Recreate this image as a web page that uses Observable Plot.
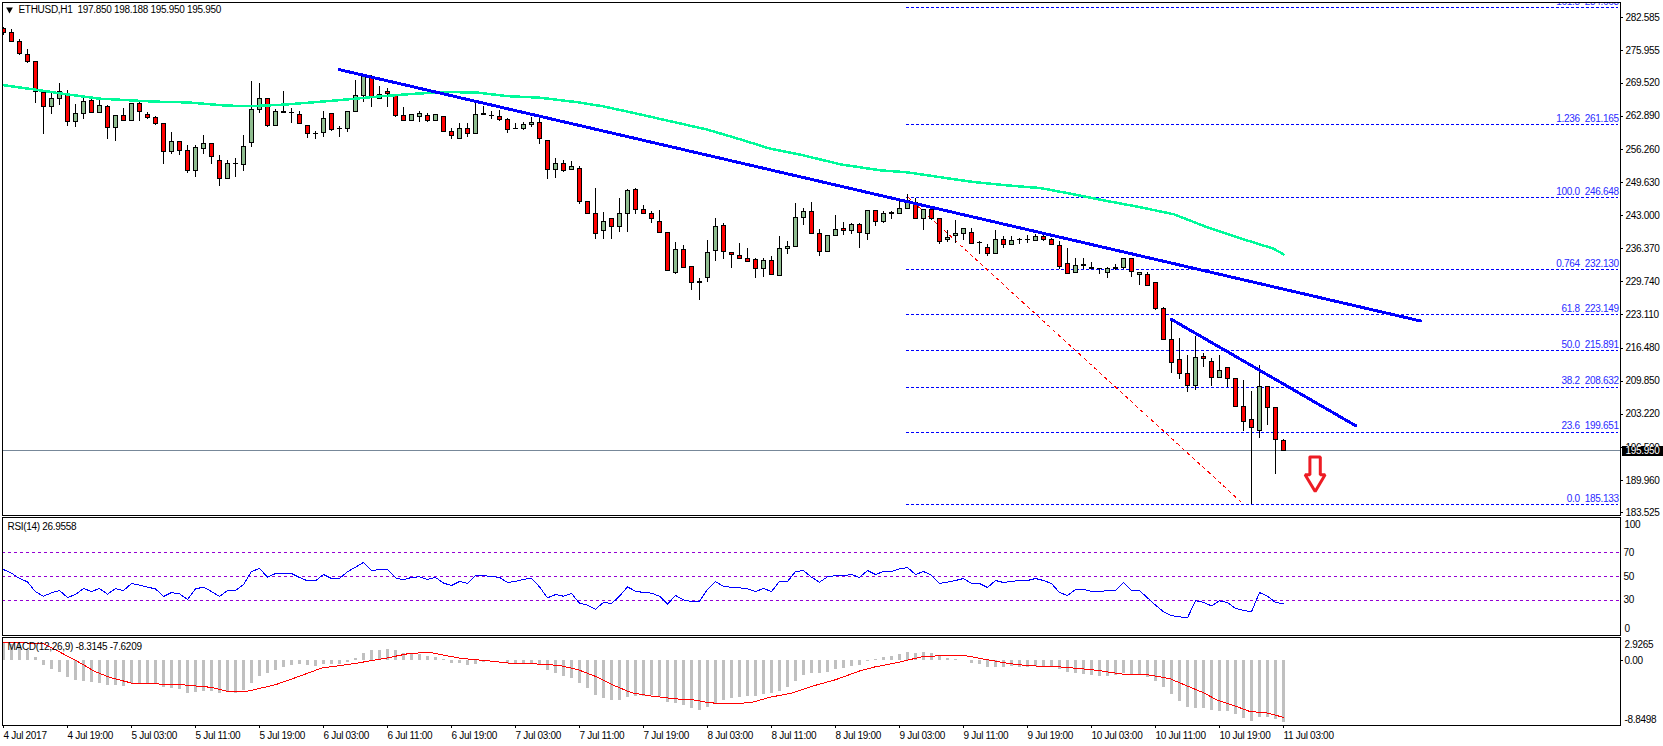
<!DOCTYPE html>
<html><head><meta charset="utf-8">
<script src="https://cdn.jsdelivr.net/npm/d3@7"></script>
<script src="https://cdn.jsdelivr.net/npm/@observablehq/plot@0.6"></script>
<style>html,body{margin:0;padding:0;background:#fff;overflow:hidden}svg{display:block}</style>
</head><body><div id="chart"></div>
<script>
const openV=[280.3,279.6,277.8,275.2,273.8,267.6,264.8,266.4,267.2,261.8,
263.4,266.0,263.6,264.8,260.6,263.0,262.0,265.4,263.2,262.6,
261.4,255.8,257.8,256.0,251.9,256.3,257.4,254.0,250.3,253.4,
253.1,257.5,264.2,266.4,260.9,263.7,263.6,263.1,261.0,259.4,
259.6,263.4,260.4,260.4,263.8,267.0,270.6,266.4,267.8,267.1,
263.0,262.0,262.7,263.0,261.9,262.8,259.8,258.3,260.4,259.3,
263.25,263.0,262.8,262.2,260.4,260.25,261.1,261.6,258.0,252.1,
253.4,252.1,252.4,245.8,243.4,239.9,242.4,240.7,243.4,248.2,
244.2,243.4,241.8,239.6,231.5,236.2,232.6,229.65,230.5,235.9,
241.0,235.6,235.0,234.4,234.0,232.2,233.8,230.9,236.3,236.8,
242.5,243.8,239.4,235.7,239.0,240.4,239.9,241.2,239.4,244.0,
241.7,243.5,243.4,244.4,245.6,242.3,244.2,242.4,238.1,239.0,
239.4,239.6,237.6,236.6,235.3,238.2,237.2,238.2,238.2,238.0,
238.8,238.2,237.0,233.2,231.4,233.05,232.4,232.3,231.4,232.4,
232.5,234.4,231.0,231.0,229.4,224.2,218.0,214.0,211.2,208.9,
214.6,213.6,210.4,212.4,210.2,204.6,202.0,199.8,208.6,204.4,
197.85];
const highV=[280.6,280.2,278.2,276.2,273.8,267.6,267.4,269.4,268.05,265.25,
266.7,266.2,266.7,265.0,263.0,264.45,265.4,265.8,263.6,262.85,
261.4,259.65,257.8,257.0,257.1,259.05,257.4,255.05,254.0,254.45,
259.05,269.8,269.4,266.4,264.2,267.8,264.45,263.9,261.0,259.9,
263.8,263.4,260.85,263.8,270.0,271.05,271.05,268.85,268.4,267.1,
264.65,263.3,263.85,263.4,263.2,262.8,260.45,261.45,261.45,265.65,
264.85,263.8,264.05,262.45,261.45,261.6,262.6,262.6,258.0,254.4,
254.05,253.85,252.8,245.8,248.4,243.6,242.4,246.4,248.2,248.4,
245.0,243.8,244.0,239.6,237.6,237.0,232.6,230.4,238.0,242.4,
241.4,235.6,237.4,236.4,234.4,234.4,234.8,238.8,237.8,245.4,
244.4,245.6,240.2,239.0,243.0,241.6,241.4,241.4,244.0,244.0,
243.8,243.8,245.8,247.25,246.5,244.2,244.6,242.4,240.0,242.0,
240.4,240.4,237.9,237.3,240.0,238.8,238.8,238.4,239.0,239.2,
239.2,238.4,237.8,236.4,234.4,234.4,233.6,232.3,232.6,233.2,
234.4,234.5,231.4,231.5,229.4,224.6,222.1,218.4,215.05,218.85,
215.4,214.4,215.05,212.4,210.4,210.05,207.8,213.0,208.7,204.4,
198.188];
const lowV=[279.1,277.7,275.1,273.5,265.5,259.2,263.2,265.0,260.85,260.7,
262.3,263.5,263.5,258.3,257.9,261.8,261.8,261.9,262.2,261.05,
253.3,255.2,255.0,251.4,250.7,255.2,253.3,248.9,250.3,250.7,
251.9,256.7,263.5,260.7,260.9,263.5,261.5,261.25,258.5,258.3,
258.7,259.9,258.7,259.7,263.8,265.7,264.7,266.4,264.7,262.7,
262.0,262.0,261.7,261.7,261.9,259.7,258.3,258.3,258.7,259.3,
263.1,262.2,261.9,259.5,260.2,260.1,260.7,257.3,250.3,250.5,
251.7,252.1,245.3,243.3,238.3,238.3,238.3,239.7,239.7,243.3,
243.3,241.5,239.5,231.9,231.1,232.5,228.05,226.05,229.5,233.7,
234.3,232.3,234.3,233.7,230.3,230.5,231.0,230.9,235.3,236.8,
241.1,239.3,234.9,235.7,239.0,239.1,239.3,236.5,238.1,240.9,
241.5,242.3,243.4,244.4,242.3,240.05,242.0,237.3,237.7,237.5,
238.05,237.3,235.3,234.9,235.3,236.5,237.1,237.2,237.4,237.9,
237.9,237.1,232.2,231.1,231.3,232.2,232.2,231.1,230.3,232.0,
232.2,230.5,228.9,228.8,223.9,218.0,211.4,210.2,207.5,207.9,
212.5,208.7,210.4,208.5,204.6,199.8,185.133,198.4,200.9,191.2,
195.95];
const closeV=[279.5,277.7,275.3,273.7,267.8,264.8,266.4,267.7,261.8,263.4,
265.8,263.6,265.0,260.5,263.0,262.0,265.4,263.8,262.5,261.4,
255.7,257.8,256.0,251.9,256.6,257.4,254.7,250.3,253.4,253.25,
256.8,264.2,266.4,260.9,263.8,263.6,263.45,261.3,259.3,259.25,
262.4,260.1,260.25,263.8,267.0,270.85,266.6,267.05,267.25,262.9,
262.0,263.2,263.4,261.9,263.2,259.7,258.9,260.4,259.3,263.2,
263.1,262.85,262.1,260.1,260.25,261.2,261.6,258.3,252.1,253.4,
251.9,252.8,245.7,243.3,239.3,241.8,240.7,243.4,248.0,244.1,
243.3,242.3,239.5,231.9,236.2,232.5,229.5,229.5,235.6,240.8,
235.7,235.1,234.3,233.7,232.3,233.8,231.1,236.4,236.8,242.6,
243.8,239.3,235.7,239.0,240.2,239.9,241.2,239.5,244.0,241.7,
243.4,243.4,244.4,245.9,242.3,244.2,242.4,237.7,238.6,239.4,
240.4,237.3,237.45,235.3,238.2,237.2,238.0,238.05,238.05,238.8,
238.2,237.2,232.7,231.3,232.9,232.9,232.25,232.2,232.3,232.25,
234.2,231.6,231.4,228.8,224.2,218.0,213.4,211.2,208.9,214.4,
214.2,210.4,211.8,210.2,204.6,201.7,200.4,208.6,204.4,198.0,
195.95];

const maIdx=[0,4,8,12,16,19,23,26,28,31,35,39,43,47,52,56,59,63,67,71.7,75,79,83.3,88,92.5,95.8,100,104.6,109.6,113,117,121.3,125.4,129.6,133.8,138,142,146.3,150.4,154.6,158.7,160];
const maVal=[269.1,268.2,267.25,266.4,266.05,265.8,265.65,265.25,265.0,264.9,265.2,265.7,266.25,266.85,267.45,267.7,267.65,266.9,266.6,265.7,264.85,263.45,261.9,260.2,258.05,256.4,255.05,253.25,252.05,251.65,250.7,249.7,249.05,248.5,247.25,245.9,244.7,243.25,240.7,238.45,236.4,235.25];

const trend1Idx=[42,177.1], trend1Val=[272.2,221.9];
const trend2Idx=[146,169.05], trend2Val=[222.2,200.9];
const fibDiagIdx=[113.1,154.6], fibDiagVal=[246.6,185.8];
const fibStartIdx=112.9, fibEndIdx=201.9;
const fibLevels=[284.663,261.165,246.648,232.130,223.149,215.891,208.632,199.651,185.133];
const fibLabels=["161.8  284.663","1.236  261.165","100.0  246.648","0.764  232.130","61.8  223.149","50.0  215.891","38.2  208.632","23.6  199.651","0.0  185.133"];
const lastClose=195.95;
const priceTicks=[282.585,275.955,269.52,262.89,256.26,249.63,243,236.37,229.74,223.11,216.48,209.85,203.22,196.59,189.96,183.525];
const arrowIdx=[163.3,164.6,164.6,165.2,163.96,162.7,163.3,163.3];
const arrowVal=[194.65,194.65,191.1,191.1,187.75,191.1,191.1,194.65];

const rsiV=[55.9,52.8,48.3,45.5,37.0,33.3,36.2,38.1,32.2,34.7,39.8,37.3,39.8,35.0,39.8,38.1,44.1,42.7,41.0,39.5,33.1,36.4,35.3,30.5,39.5,41.0,37.3,33.1,38.1,38.1,43.2,54.2,56.8,49.4,52.5,52.5,52.5,49.2,46.3,46.3,51.7,48.3,48.3,54.0,57.9,61.9,55.1,55.9,55.9,48.9,47.2,49.2,49.7,47.5,49.2,44.4,42.4,45.8,44.1,50.8,50.8,50.0,49.2,44.9,45.8,47.5,48.6,41.2,31.9,34.7,
33.3,35.6,27.4,25.7,22.3,28.0,27.1,33.3,41.2,37.6,36.4,35.9,33.3,26.6,33.9,30.2,28.8,29.1,39.0,45.5,41.8,40.7,40.4,39.5,37.3,39.8,37.3,45.8,45.8,54.2,55.1,49.4,45.2,49.7,50.8,50.6,51.7,49.2,55.1,51.7,54.2,54.2,56.5,57.6,51.7,54.2,51.1,44.1,45.2,46.6,48.3,44.1,44.1,40.7,46.6,44.9,45.8,46.6,46.6,48.3,46.6,44.1,36.4,33.9,39.0,39.0,37.3,37.3,38.1,38.1,
44.9,38.1,38.1,31.9,25.7,20.1,16.9,15.8,15.0,29.4,28.2,25.1,29.4,28.0,22.9,21.2,20.1,36.4,33.3,28.0,26.9558];
const rsiLevels=[70,50,30];

const macdHist=[2.33,2.10,2.01,1.25,0.40,-0.67,-1.21,-1.57,-2.28,-2.68,-2.82,-2.95,-3.04,-3.31,-3.36,-3.49,-3.13,-3.18,-3.22,-3.22,-3.58,-3.76,-3.85,-4.38,-4.30,-4.16,-4.12,-4.38,-4.34,-4.38,-3.98,-3.09,-2.15,-1.79,-1.34,-0.94,-0.67,-0.54,-0.67,-0.81,-0.58,-0.54,-0.54,-0.27,0.22,0.94,1.25,1.34,1.48,1.25,0.94,0.89,0.76,0.54,0.40,0.13,-0.40,-0.49,-0.67,-0.54,-0.36,-0.09,-0.09,-0.49,-0.54,-0.54,-0.49,-0.67,-1.34,-1.74,
-2.15,-2.42,-3.09,-3.76,-4.70,-5.10,-5.37,-5.37,-4.97,-4.83,-4.79,-4.70,-4.79,-5.64,-5.77,-6.04,-6.44,-6.71,-6.31,-5.73,-5.37,-5.10,-4.97,-4.83,-4.83,-4.56,-4.43,-4.16,-3.62,-2.82,-2.01,-1.74,-1.74,-1.61,-1.21,-1.07,-0.81,-0.67,-0.22,0.09,0.36,0.54,0.81,1.07,0.94,1.07,0.94,0.54,0.22,0.09,-0.09,-0.40,-0.54,-0.94,-0.94,-0.94,-0.89,-0.94,-0.94,-0.81,-0.81,-0.81,-1.21,-1.61,-1.74,-1.88,-2.01,-2.15,-2.15,-2.01,
-1.74,-1.88,-1.88,-2.28,-2.82,-3.62,-4.56,-5.50,-6.31,-6.44,-6.44,-6.71,-6.85,-6.85,-7.25,-7.79,-8.19,-7.65,-7.65,-7.92,-8.3145];
const signalIdx=[0,5,7,9,11.4,13.4,16,19.7,22.8,26,28,30.4,34,36.6,39.8,43.8,47.9,50.6,53.2,57.1,60.8,63,67.9,69.6,71.8,74,76.3,78.5,80.7,83.9,86.5,88.1,91,93.5,95.9,98.6,101.3,104,107.1,108.9,111.5,115.1,120,122.7,125.8,128,132.1,135.6,137,139.8,143.3,145.8,147.8,150,151.8,154,155.8,157.8,160];
const signalVal=[2.42,2.24,1.12,0,-1.48,-2.33,-3.04,-3.18,-3.31,-3.62,-4.16,-4.16,-3.27,-2.28,-1.03,-0.45,0.31,0.89,1.07,0.27,-0.09,-0.36,-0.54,-0.72,-1.25,-2.15,-3.36,-4.34,-4.74,-5.15,-5.32,-5.68,-5.82,-5.64,-4.92,-4.38,-3.40,-2.60,-1.39,-0.89,-0.36,0.54,0.67,0.13,-0.45,-0.72,-0.89,-1.21,-1.39,-1.83,-1.97,-2.46,-3.36,-4.34,-5.37,-6.13,-6.85,-7.02,-7.6209];

const xTickIdx=[0,8,16,24,32,40,48,56,64,72,80,88,96,104,112,120,128,136,144,152,160];
const xTickLabels=["4 Jul 2017","4 Jul 19:00","5 Jul 03:00","5 Jul 11:00","5 Jul 19:00","6 Jul 03:00","6 Jul 11:00","6 Jul 19:00","7 Jul 03:00","7 Jul 11:00","7 Jul 19:00","8 Jul 03:00","8 Jul 11:00","8 Jul 19:00","9 Jul 03:00","9 Jul 11:00","9 Jul 19:00","10 Jul 03:00","10 Jul 11:00","10 Jul 19:00","11 Jul 03:00"];

const bars=d3.range(openV.length);
const up="#8fbc8f", down="#ff0000";
const crisp={shapeRendering:"crispEdges"};
const xScale={domain:[-0.125,202.125],axis:null};
const baseStyle={fontFamily:"'Liberation Sans',Arial,sans-serif",fontSize:"10px",letterSpacing:"-0.3px",background:"#fff",color:"#000",display:"block"};
const polyline=(xs,ys,opts)=>Plot.line(d3.range(xs.length),{x:i=>xs[i],y:i=>ys[i],curve:"linear",...opts});
const fibText=d=>d.replace(/ /g,"\u00a0");
const fibIdx=fibLevels.map((_,i)=>i);

const main=Plot.plot({
  width:1663,height:516,marginLeft:2,marginRight:43,marginTop:2,marginBottom:1,
  style:baseStyle,x:xScale,y:{domain:[182.95,285.65],axis:null},
  marks:[
    Plot.ruleY(fibLevels,{x1:fibStartIdx,x2:fibEndIdx,stroke:"#0000ff",strokeWidth:1,strokeDasharray:"3,2",...crisp}),
    Plot.ruleY([lastClose],{stroke:"#778899",strokeWidth:1,...crisp}),
    polyline(fibDiagIdx,fibDiagVal,{stroke:"#ff0000",strokeWidth:1,strokeDasharray:"3,4",...crisp}),
    Plot.ruleX(bars,{x:i=>i,y1:i=>lowV[i],y2:i=>highV[i],stroke:"#000",strokeWidth:1,clip:true,...crisp}),
    Plot.rect(bars,{x1:i=>i-0.25,x2:i=>i+0.25,y1:i=>openV[i],y2:i=>closeV[i],fill:i=>closeV[i]>openV[i]?up:down,stroke:"#000",strokeWidth:1,clip:true,...crisp}),
    polyline(maIdx,maVal,{stroke:"#00fa9a",strokeWidth:2.5,clip:true,...crisp}),
    polyline(trend1Idx,trend1Val,{stroke:"#0000ff",strokeWidth:3,...crisp}),
    polyline(trend2Idx,trend2Val,{stroke:"#0000ff",strokeWidth:3,...crisp}),
    polyline(arrowIdx,arrowVal,{stroke:"#ed1c24",strokeWidth:3,strokeLinejoin:"miter",fill:"none"}),
    Plot.text(fibIdx.slice(0,1),{x:fibEndIdx,y:i=>fibLevels[i],text:i=>fibText(fibLabels[i]),textAnchor:"end",dy:-6,fill:"#2a2aff",clip:true}),
    Plot.text(fibIdx.slice(1),{x:fibEndIdx,y:i=>fibLevels[i],text:i=>fibText(fibLabels[i]),textAnchor:"end",dy:-6,fill:"#2a2aff"}),
    Plot.dot([0],{frameAnchor:"top-left",dx:7,dy:7,symbol:"triangle",rotate:180,r:2.5,fill:"#000"}),
    Plot.text(["ETHUSD,H1\u00a0\u00a0197.850 198.188 195.950 195.950"],{frameAnchor:"top-left",dx:16,dy:3,textAnchor:"start",lineAnchor:"top"}),
    Plot.frame({stroke:"#000",strokeWidth:1,...crisp}),
    Plot.axisY(priceTicks,{anchor:"right",label:null,tickSize:2,tickPadding:3,tickFormat:d=>d.toFixed(3),...crisp}),
    Plot.rect([lastClose],{x1:202.4,x2:208,y1:194.8,y2:196.75,fill:"#000",...crisp}),
    Plot.text([lastClose],{y:d=>d,frameAnchor:"right",dx:5,text:d=>d.toFixed(3),textAnchor:"start",fill:"#fff"})
  ]
});

const rsi=Plot.plot({
  width:1663,height:120,marginLeft:2,marginRight:43,marginTop:1,marginBottom:1,
  style:baseStyle,x:xScale,y:{domain:[0,100],axis:null},
  marks:[
    Plot.ruleY(rsiLevels,{stroke:"#9400d3",strokeWidth:1,strokeDasharray:"3,3",...crisp}),
    polyline(bars,rsiV,{stroke:"#0000ff",strokeWidth:1,...crisp}),
    Plot.text(["RSI(14) 26.9558"],{frameAnchor:"top-left",dx:5,dy:5,textAnchor:"start",lineAnchor:"top"}),
    Plot.frame({stroke:"#000",strokeWidth:1,...crisp}),
    Plot.axisY(rsiLevels,{anchor:"right",label:null,tickSize:0,tickPadding:3}),
    Plot.text([100],{y:d=>d,frameAnchor:"right",dx:4,dy:7,text:d=>String(d),textAnchor:"start"}),
    Plot.text([0],{y:d=>d,frameAnchor:"right",dx:4,dy:-7,text:d=>String(d),textAnchor:"start"})
  ]
});

const macd=Plot.plot({
  width:1663,height:110,marginLeft:2,marginRight:43,marginTop:1,marginBottom:21,
  style:baseStyle,x:xScale,y:{domain:[-8.72,3.05],axis:null},
  marks:[
    Plot.ruleX(bars,{x:i=>i,y1:0,y2:i=>macdHist[i],stroke:"#c0c0c0",strokeWidth:3,clip:true,...crisp}),
    polyline(signalIdx,signalVal,{stroke:"#ff0000",strokeWidth:1,clip:true,...crisp}),
    Plot.text(["MACD(12,26,9) -8.3145 -7.6209"],{frameAnchor:"top-left",dx:5,dy:5,textAnchor:"start",lineAnchor:"top"}),
    Plot.frame({stroke:"#000",strokeWidth:1,...crisp}),
    Plot.axisY([0],{anchor:"right",label:null,tickSize:2,tickPadding:2,tickFormat:d=>d.toFixed(2),...crisp}),
    Plot.text(["2.9265"],{frameAnchor:"top-right",dx:4,dy:7,textAnchor:"start",lineAnchor:"middle",text:d=>d}),
    Plot.text(["-8.8498"],{frameAnchor:"bottom-right",dx:4,dy:-6,textAnchor:"start",lineAnchor:"middle",text:d=>d}),
    Plot.axisX(xTickIdx,{anchor:"bottom",label:null,tickSize:3,tickPadding:3,textAnchor:"start",lineAnchor:"top",tickFormat:d=>xTickLabels[xTickIdx.indexOf(d)],...crisp})
  ]
});

document.getElementById("chart").append(main,rsi,macd);
</script></body></html>
